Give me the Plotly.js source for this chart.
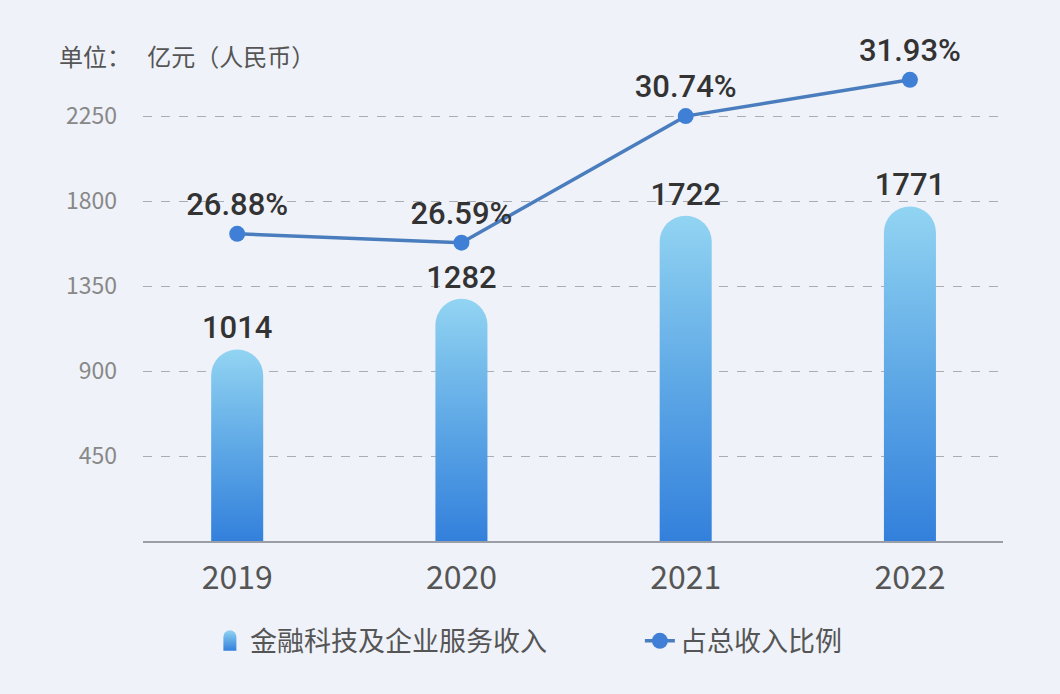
<!DOCTYPE html>
<html>
<head>
<meta charset="utf-8">
<script src="https://cdn.plot.ly/plotly-3.0.1.min.js"></script>
<style>
html,body{margin:0;padding:0;background:#eff2f9;}
#chart{width:1060px;height:694px;}
</style>
</head>
<body>
<div id="chart"></div>
<script>
const years = ['2019', '2020', '2021', '2022'];
const revenue = [1014, 1282, 1722, 1771];
const ratio = [26.88, 26.59, 30.74, 31.93];
const ratioLabels = ['26.88%', '26.59%', '30.74%', '31.93%'];
const yTicks = [450, 900, 1350, 1800, 2250];
const barName = '金融科技及企业服务收入';
const lineName = '占总收入比例';
const unitText = '单位：&nbsp;&nbsp;&nbsp;亿元（人民币）';

const FONT = '"Noto Sans CJK SC", "Noto Sans", sans-serif';
const NUMFONT = 'Roboto, "Noto Sans", sans-serif';

const barTrace = {
  type: 'bar',
  name: barName,
  x: years,
  y: revenue,
  width: 0.232,
  marker: {color: '#5aa8e6', cornerradius: '50%', line: {width: 0}},
  text: revenue.map(String),
  textposition: 'outside',
  constraintext: 'none',
  cliponaxis: false,
  textfont: {family: NUMFONT, size: 31, color: '#333333', weight: 500},
  hoverinfo: 'skip'
};

const lineTrace = {
  type: 'scatter',
  name: lineName,
  x: years,
  y: ratio,
  yaxis: 'y2',
  mode: 'lines+markers+text',
  line: {color: '#4a7dbd', width: 3.5},
  marker: {color: '#3f80d6', size: 16},
  text: ratioLabels,
  textposition: 'top center',
  cliponaxis: false,
  textfont: {family: NUMFONT, size: 31, color: '#333333', weight: 500},
  hoverinfo: 'skip'
};

const layout = {
  width: 1060,
  height: 694,
  paper_bgcolor: '#eff2f9',
  plot_bgcolor: 'rgba(0,0,0,0)',
  margin: {l: 143, r: 57, t: 60, b: 153},
  font: {family: FONT, color: '#555555'},
  showlegend: true,
  xaxis: {
    type: 'category',
    range: [-0.42, 3.415],
    showgrid: false,
    zeroline: false,
    showline: true,
    linecolor: '#9a9ea6',
    linewidth: 1.5,
    ticks: '',
    tickfont: {family: FONT, size: 32, color: '#555555'},
    ticklabelstandoff: 8,
    fixedrange: true
  },
  yaxis: {
    range: [0, 2546.5],
    tickvals: yTicks,
    ticktext: yTicks.map(String),
    showgrid: true,
    gridcolor: '#a9adb5',
    griddash: 'dash',
    gridwidth: 1,
    zeroline: false,
    showline: false,
    ticks: '',
    tickfont: {family: FONT, size: 23, color: '#888888'},
    ticklabelstandoff: 25,
    fixedrange: true
  },
  yaxis2: {
    overlaying: 'y',
    side: 'right',
    range: [16.81, 32.58],
    visible: false,
    showgrid: false,
    zeroline: false,
    fixedrange: true
  },
  legend: {
    orientation: 'h',
    xref: 'container',
    yref: 'container',
    x: 0.198,
    y: 0.076,
    xanchor: 'left',
    yanchor: 'middle',
    bgcolor: 'rgba(0,0,0,0)',
    font: {family: FONT, size: 27, color: '#555555'},
    itemclick: false,
    itemdoubleclick: false,
    traceorder: 'normal',
    entrywidth: 385,
    entrywidthmode: 'pixels'
  },
  annotations: [{
    xref: 'paper', yref: 'paper',
    x: (57 - 143) / (1060 - 143 - 57),
    y: (541 - 55) / (541 - 60),
    xanchor: 'left', yanchor: 'middle',
    text: unitText,
    showarrow: false,
    font: {family: FONT, size: 24, color: '#555555'}
  }]
};

Plotly.newPlot('chart', [barTrace, lineTrace], layout, {staticPlot: true, displayModeBar: false}).then(function (gd) {
  const svg = gd.querySelector('svg.main-svg');
  const ns = 'http://www.w3.org/2000/svg';
  let defs = svg.querySelector('defs');
  if (!defs) { defs = document.createElementNS(ns, 'defs'); svg.insertBefore(defs, svg.firstChild); }
  const grad = document.createElementNS(ns, 'linearGradient');
  grad.setAttribute('id', 'barGrad');
  grad.setAttribute('x1', '0'); grad.setAttribute('y1', '0');
  grad.setAttribute('x2', '0'); grad.setAttribute('y2', '1');
  [['0', '#92d4f2'], ['0.5', '#5fa9e6'], ['1', '#3380dc']].forEach(function (s) {
    const st = document.createElementNS(ns, 'stop');
    st.setAttribute('offset', s[0]);
    st.setAttribute('stop-color', s[1]);
    grad.appendChild(st);
  });
  defs.appendChild(grad);
  gd.querySelectorAll('.barlayer .point path').forEach(function (p) {
    p.style.fill = 'url(#barGrad)';
  });
  const legendTraces = gd.querySelectorAll('.legend .traces');
  if (legendTraces.length) {
    legendTraces[0].querySelectorAll('.legendpoints path').forEach(function (p) {
      p.setAttribute('d', 'M-6.5,10V-4A6.5,6.5 0 0 1 6.5,-4V10Z');
      p.style.fill = 'url(#barGrad)';
      p.style.stroke = 'none';
    });
  }
});
</script>
</body>
</html>
